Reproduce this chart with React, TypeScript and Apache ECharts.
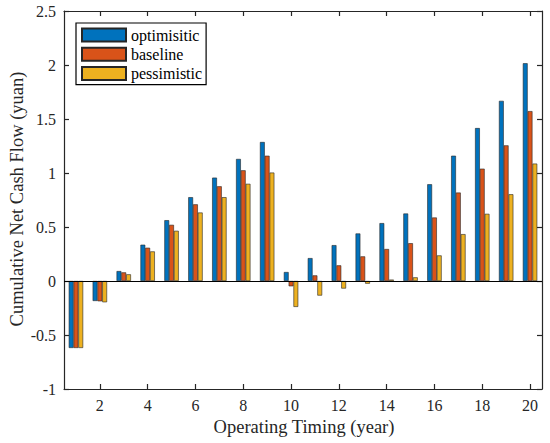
import React, { useEffect, useRef } from "react";
import * as echarts from "echarts";

const years = ["1","2","3","4","5","6","7","8","9","10","11","12","13","14","15","16","17","18","19","20"];
const optimistic = [-0.62, -0.185, 0.092, 0.336, 0.563, 0.776, 0.957, 1.13, 1.287, 0.083, 0.212, 0.332, 0.44, 0.536, 0.625, 0.896, 1.16, 1.416, 1.668, 2.016];
const baseline = [-0.62, -0.188, 0.08, 0.308, 0.52, 0.71, 0.877, 1.025, 1.16, -0.049, 0.052, 0.145, 0.228, 0.296, 0.35, 0.588, 0.819, 1.04, 1.256, 1.573];
const pessimistic = [-0.62, -0.197, 0.062, 0.274, 0.465, 0.634, 0.776, 0.9, 1.004, -0.24, -0.135, -0.07, -0.025, 0.013, 0.034, 0.237, 0.434, 0.622, 0.803, 1.087];
const seriesNames = ["optimisitic", "baseline", "pessimistic"];
const colors = ["#0072BD", "#D95319", "#EDB120"];
const xTitle = "Operating Timing (year)";
const yTitle = "Cumulative Net Cash Flow (yuan)";

const FONT = "Liberation Serif";
const AX = "#262626";

const ls = () => ({ color: AX, width: 1.2 });

export default function App() {
  const ref = useRef<HTMLDivElement>(null);
  useEffect(() => {
    if (!ref.current) return;
    const chart = echarts.init(ref.current, null, { renderer: "svg" });
    const datasets = [optimistic, baseline, pessimistic];
    const series: any[] = datasets.map((d, i) => ({
      name: seriesNames[i],
      type: "bar",
      data: d,
      barWidth: 4.8,
      barGap: "0%",
      itemStyle: { color: colors[i], borderColor: "#262626", borderWidth: 0.6 },
      ...(i === 2
        ? {
            markLine: {
              silent: true,
              symbol: "none",
              label: { show: false },
              lineStyle: { color: "#000", width: 1.2, type: "solid" },
              data: [{ yAxis: 0 }],
            },
          }
        : {}),
    }));
    chart.setOption({
      animation: false,
      grid: { left: 64, right: 8, top: 11, bottom: 54 },
      graphic: [
        {
          type: "text",
          x: 304,
          y: 427,
          style: {
            text: xTitle,
            fontFamily: FONT,
            fontSize: 18.5,
            fill: AX,
            align: "center",
            verticalAlign: "middle",
          },
        },
        {
          type: "text",
          x: 17,
          y: 199,
          rotation: Math.PI / 2,
          style: {
            text: yTitle,
            fontFamily: FONT,
            fontSize: 18.5,
            fill: AX,
            align: "center",
            verticalAlign: "middle",
          },
        },
      ],
      legend: {
        orient: "vertical",
        left: 76,
        top: 23,
        icon: "rect",
        itemWidth: 44,
        itemHeight: 13,
        itemGap: 3.3,
        padding: [4, 4, 3, 5],
        borderColor: "#000",
        borderWidth: 1.2,
        backgroundColor: "#fff",
        textStyle: { fontFamily: FONT, fontSize: 16, color: "#000", lineHeight: 16 },
        data: seriesNames,
      },
      xAxis: [
        {
          type: "category",
          data: years,
          axisLine: { show: true, onZero: false, lineStyle: ls() },
          axisTick: { show: true, inside: true, length: 5, alignWithLabel: true, lineStyle: ls() },
          axisLabel: {
            interval: (index: number) => index % 2 === 1,
            fontFamily: FONT,
            fontSize: 16,
            color: AX,
          },
          splitLine: { show: false },
        },
        {
          type: "category",
          data: years,
          position: "top",
          axisLine: { show: true, onZero: false, lineStyle: ls() },
          axisTick: { show: true, inside: true, length: 5, alignWithLabel: true, lineStyle: ls() },
          axisLabel: { show: false, interval: (index: number) => index % 2 === 1 },
          splitLine: { show: false },
        },
      ],
      yAxis: [
        {
          type: "value",
          min: -1,
          max: 2.5,
          interval: 0.5,
          axisLine: { show: true, lineStyle: ls() },
          axisTick: { show: true, inside: true, length: 5, lineStyle: ls() },
          axisLabel: { fontFamily: FONT, fontSize: 16, color: AX },
          splitLine: { show: false },
        },
        {
          type: "value",
          min: -1,
          max: 2.5,
          interval: 0.5,
          position: "right",
          axisLine: { show: true, lineStyle: ls() },
          axisTick: { show: true, inside: true, length: 5, lineStyle: ls() },
          axisLabel: { show: false },
          splitLine: { show: false },
        },
      ],
      series,
    });
    return () => chart.dispose();
  }, []);
  return (
    <div
      ref={ref}
      style={{ position: "fixed", left: 0, top: 0, width: 550, height: 443, background: "#fff" }}
    />
  );
}
